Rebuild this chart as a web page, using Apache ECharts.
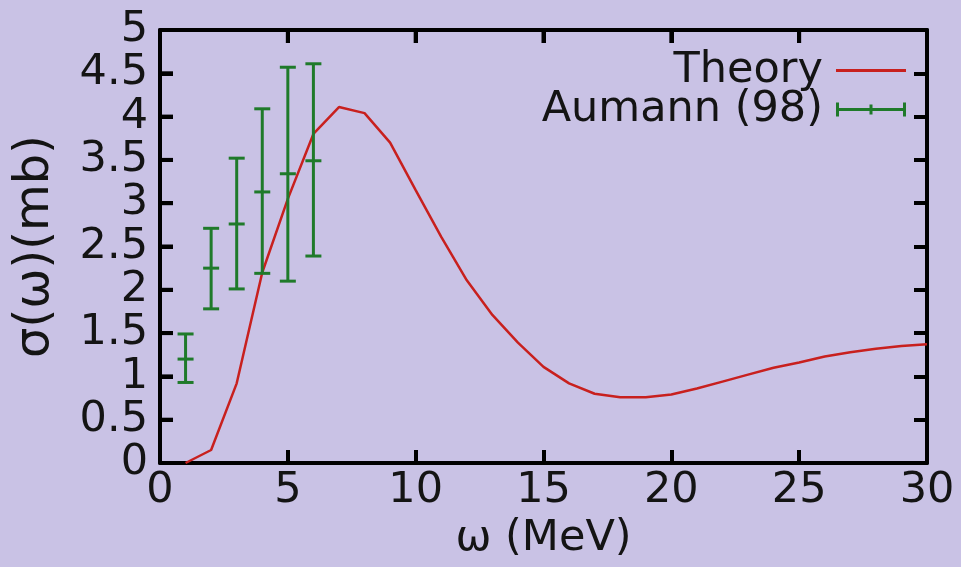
<!DOCTYPE html>
<html>
<head>
<meta charset="utf-8">
<script src="https://cdn.jsdelivr.net/npm/echarts@6/dist/echarts.min.js"></script>
<style>
html,body{margin:0;padding:0;background:#c9c2e5;}
#chart{width:961px;height:567px;}
</style>
</head>
<body>
<div id="chart"></div>
<script>
// Theory curve (omega in MeV, sigma in mb)
var theoryX = [1,2,3,4,5,6,7,8,9,10,11,12,13,14,15,16,17,18,19,20,21,22,23,24,25,26,27,28,29,30];
var theoryY = [0,0.15,0.92,2.2,3.05,3.8,4.11,4.04,3.7,3.15,2.61,2.11,1.71,1.39,1.11,0.92,0.80,0.76,0.76,0.79,0.86,0.94,1.02,1.10,1.16,1.23,1.28,1.32,1.35,1.37];
// Aumann (98) data with error bars
var expX = [1,2,3,4,5,6];
var expY = [1.2,2.25,2.76,3.13,3.34,3.49];
var expLow = [0.93,1.78,2.01,2.19,2.10,2.39];
var expHigh = [1.49,2.71,3.52,4.09,4.57,4.61];
var xTicks = [0,5,10,15,20,25,30];
var yTicks = [0,0.5,1,1.5,2,2.5,3,3.5,4,4.5,5];

var RED = '#c8201e', GREEN = '#1f7a2a', FONT = 'DejaVu Sans', FS = 43, TXT = '#141414';

var theoryData = theoryX.map(function(x,i){return [x, theoryY[i]];});
var expData = expX.map(function(x,i){return [x, expY[i], expLow[i], expHigh[i]];});

var xMin = xTicks[0], xMax = xTicks[xTicks.length-1], xInt = xTicks[1]-xTicks[0];
var yMin = yTicks[0], yMax = yTicks[yTicks.length-1], yInt = yTicks[1]-yTicks[0];

// mirrored inside ticks on the left and top frame edges, placed through the axis scales
var leftTickData = yTicks.map(function(v){return [xMin, v];});
var topTickData = xTicks.map(function(v){return [v, yMax];});

function axisLine(){ return {show:true, onZero:false, lineStyle:{color:'#000', width:4}}; }
function axisTick(){ return {show:true, inside:true, interval:0, length:13, lineStyle:{color:'#000', width:4}}; }

var chart = echarts.init(document.getElementById('chart'), null, {renderer:'canvas'});
chart.setOption({
  animation:false,
  backgroundColor:'#c9c2e5',
  grid:{left:160, right:34, top:30, bottom:104},
  legend:{
    orient:'vertical', right:50, top:44, align:'right',
    itemWidth:70, itemHeight:14, itemGap:-4,
    textStyle:{fontSize:FS, fontFamily:FONT, color:TXT, lineHeight:36, padding:[0,8,0,0]},
    data:[
      {name:'Theory', icon:'path://M0,0h70v3h-70z', itemStyle:{color:RED}},
      {name:'Aumann (98)', icon:'path://M0,0h3v14h-3z M0,5.5h70v3h-70z M33.5,2h3v10h-3z M67,0h3v14h-3z', itemStyle:{color:GREEN}}
    ]
  },
  xAxis:[
    {type:'value', min:xMin, max:xMax, interval:xInt, position:'bottom',
     axisLine:axisLine(), axisTick:axisTick(), splitLine:{show:false},
     axisLabel:{fontSize:FS, fontFamily:FONT, color:TXT, margin:6, interval:0,
       showMinLabel:true, showMaxLabel:true, hideOverlap:false},
     name:'\u03c9 (MeV)', nameLocation:'middle', nameGap:53,
     nameTextStyle:{fontSize:FS, fontFamily:FONT, color:TXT}},
    {type:'value', min:xMin, max:xMax, interval:xInt, position:'top',
     axisLine:axisLine(), axisTick:axisTick(), splitLine:{show:false}, axisLabel:{show:false}}
  ],
  yAxis:[
    {type:'value', min:yMin, max:yMax, interval:yInt, position:'left',
     axisLine:axisLine(), axisTick:axisTick(), splitLine:{show:false},
     axisLabel:{fontSize:FS, fontFamily:FONT, color:TXT, margin:12, interval:0, lineHeight:30,
       showMinLabel:true, showMaxLabel:true, hideOverlap:false},
     name:'\u03c3(\u03c9)(mb)', nameLocation:'middle', nameGap:100,
     nameTextStyle:{fontSize:48, fontFamily:FONT, color:TXT}},
    {type:'value', min:yMin, max:yMax, interval:yInt, position:'right',
     axisLine:axisLine(), axisTick:axisTick(), splitLine:{show:false}, axisLabel:{show:false}}
  ],
  series:[
    {name:'Theory', type:'line', data:theoryData, showSymbol:false, smooth:false,
     lineStyle:{color:RED, width:2.5}, itemStyle:{color:RED}, z:3},
    {name:'Aumann (98)', type:'custom', data:expData, itemStyle:{color:GREEN},
     encode:{x:0, y:[1,2,3]}, z:4,
     renderItem:function(params, api){
       var x = api.value(0);
       var pc = api.coord([x, api.value(1)]);
       var pl = api.coord([x, api.value(2)]);
       var ph = api.coord([x, api.value(3)]);
       var hw = 8;
       var st = {stroke:GREEN, lineWidth:3, fill:null};
       return {type:'group', children:[
         {type:'line', shape:{x1:pl[0], y1:pl[1], x2:ph[0], y2:ph[1]}, style:st},
         {type:'line', shape:{x1:pl[0]-hw, y1:pl[1], x2:pl[0]+hw, y2:pl[1]}, style:st},
         {type:'line', shape:{x1:ph[0]-hw, y1:ph[1], x2:ph[0]+hw, y2:ph[1]}, style:st},
         {type:'line', shape:{x1:pc[0]-hw, y1:pc[1], x2:pc[0]+hw, y2:pc[1]}, style:st}
       ]};
     }},
    {name:'leftTicks', type:'scatter', data:leftTickData, silent:true, clip:false, z:5,
     symbol:'rect', symbolSize:[13,4], symbolOffset:[6.5,0],
     itemStyle:{color:'#000', opacity:1}},
    {name:'topTicks', type:'scatter', data:topTickData, silent:true, clip:false, z:5,
     symbol:'rect', symbolSize:[4,13], symbolOffset:[0,6.5],
     itemStyle:{color:'#000', opacity:1}}
  ]
});
</script>
</body>
</html>
